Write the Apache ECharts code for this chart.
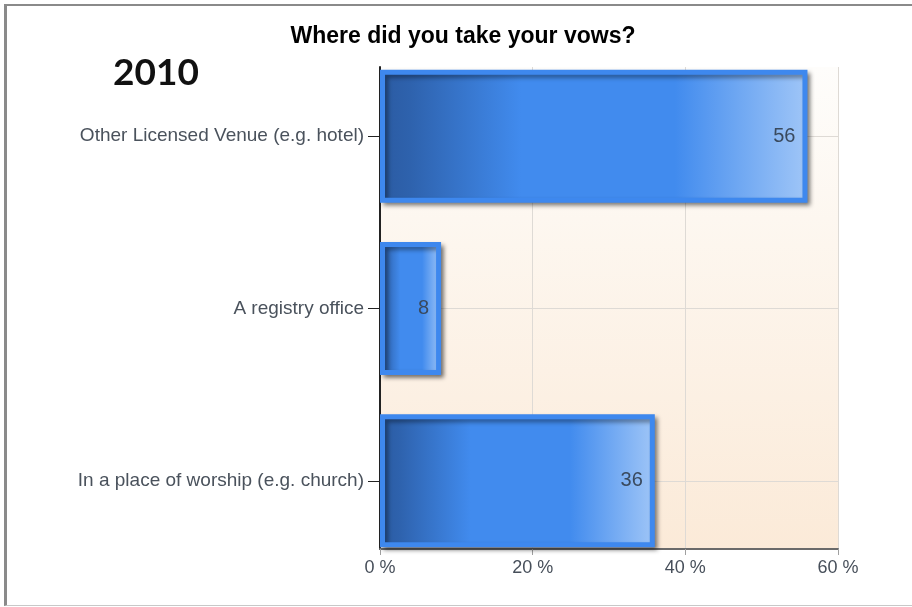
<!DOCTYPE html>
<html>
<head>
<meta charset="utf-8">
<script src="https://cdn.jsdelivr.net/npm/echarts@6/dist/echarts.min.js"></script>
<style>
  html, body { margin: 0; padding: 0; background: #fff; }
  #chart { position: absolute; left: 0; top: 0; width: 912px; height: 607px; }
  #frame { position: absolute; left: 4px; top: 4px; width: 920px; height: 599px;
           border-left: 3px solid #8a8a8a; border-top: 2px solid #8a8a8a; border-bottom: 1px solid #c8c8c8;
           pointer-events: none; }
</style>
</head>
<body>
<div id="chart"></div>
<div id="frame"></div>
<script>
const titleText = 'Where did you take your vows?';
const yearText = '2010';
const categories = ['Other Licensed Venue (e.g. hotel)', 'A registry office', 'In a place of worship (e.g. church)'];
const values = [56, 8, 36];
const xMin = 0, xMax = 60, xInterval = 20;

const FONT = 'Liberation Sans, Arial, sans-serif';
const chart = echarts.init(document.getElementById('chart'));

const barGradient = new echarts.graphic.LinearGradient(0, 0, 1, 0, [
  { offset: 0, color: '#2b5ba2' },
  { offset: 0.07, color: '#2e62ad' },
  { offset: 0.33, color: '#418bee' },
  { offset: 0.69, color: '#418bee' },
  { offset: 1, color: '#a0c6f7' }
]);

chart.setOption({
  animation: false,
  backgroundColor: '#ffffff',
  title: [
    { text: titleText, left: 458, top: 20, textAlign: 'center',
      textStyle: { fontFamily: FONT, fontWeight: 'bold', fontSize: 23, color: '#000' } },
    { text: yearText, left: 151, top: 50, textAlign: 'center',
      textStyle: { fontFamily: 'Lato, Open Sans, sans-serif', fontWeight: 'bold', fontSize: 37, color: '#111' } }
  ],
  grid: [
    { left: 380, right: 74, top: 50, bottom: 40, containLabel: false },
    { left: 380, right: 74, top: 67, bottom: 58, containLabel: false, show: true, borderWidth: 0,
      backgroundColor: new echarts.graphic.LinearGradient(0, 0, 0, 1, [
        { offset: 0, color: '#fefdfb' },
        { offset: 1, color: '#fbead8' }
      ]) }
  ],
  xAxis: [
    { gridIndex: 0, type: 'value', min: xMin, max: xMax, interval: xInterval, show: false },
    { gridIndex: 1, type: 'value', min: xMin, max: xMax, interval: xInterval,
      axisLine: { show: true, lineStyle: { color: '#6a6a6a', width: 2 } },
      axisTick: { show: true, length: 6, lineStyle: { color: '#a0a0a0' } },
      axisLabel: { formatter: '{value} %', fontFamily: FONT, fontSize: 18, color: '#474f5a', margin: 10 },
      splitLine: { show: true, lineStyle: { color: '#dedad5', width: 1 } } }
  ],
  yAxis: [
    { gridIndex: 0, type: 'category', inverse: true, data: categories,
      axisLine: { show: false },
      axisTick: { show: true, alignWithLabel: true, length: 12, lineStyle: { color: '#222' } },
      axisLabel: { fontFamily: FONT, fontSize: 19, color: '#4a525c', margin: 16 },
      splitLine: { show: true, alignWithLabel: true, lineStyle: { color: '#dedad5', width: 1 } } },
    { gridIndex: 1, type: 'value', min: 0, max: 1,
      axisLine: { show: true, lineStyle: { color: '#222', width: 2 } },
      axisTick: { show: false }, axisLabel: { show: false }, splitLine: { show: false } }
  ],
  series: [
    { type: 'bar', xAxisIndex: 0, yAxisIndex: 0, data: values, barWidth: 133,
      itemStyle: { color: barGradient, borderColor: '#3e88ee', borderWidth: 5,
        shadowColor: 'rgba(0,0,0,0.4)', shadowBlur: 4, shadowOffsetX: 3, shadowOffsetY: 3 },
      label: { show: true, position: 'insideRight', distance: 12, fontFamily: FONT, fontSize: 20, color: '#3a4a5e' },
      z: 3 }
  ]
});
</script>
</body>
</html>
